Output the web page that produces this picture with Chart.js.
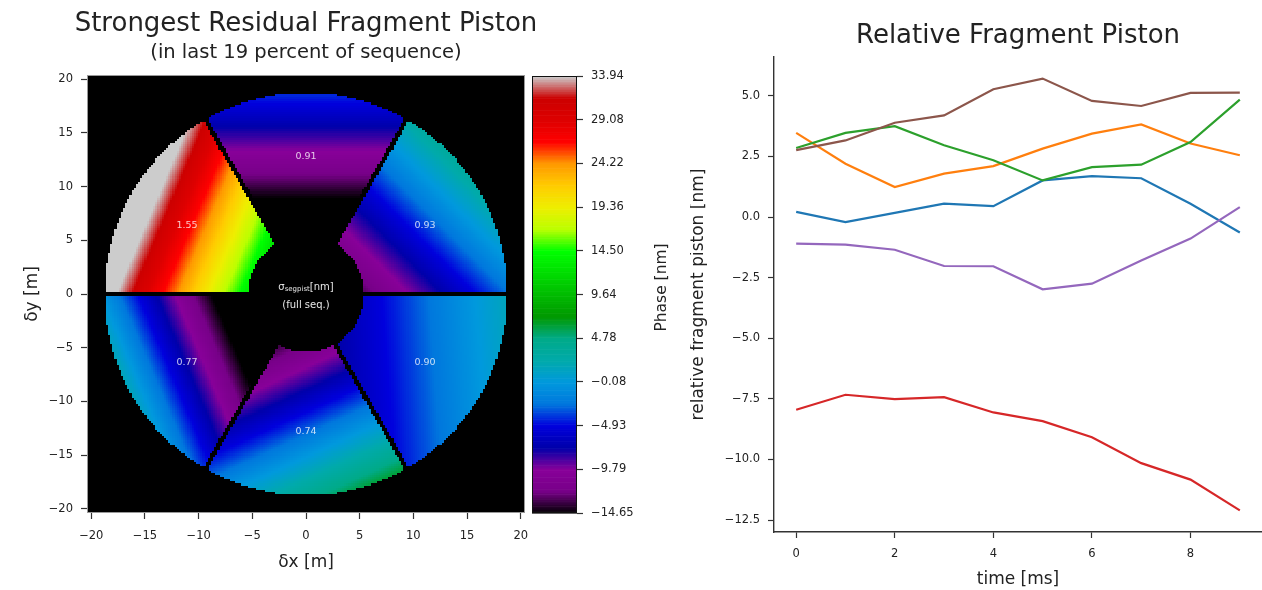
<!DOCTYPE html>
<html>
<head>
<meta charset="utf-8">
<title>Fragment piston</title>
<script src="https://cdn.jsdelivr.net/npm/chart.js@4.4.1/dist/chart.umd.min.js"></script>
<style>
  html, body { margin: 0; padding: 0; background: #fff; overflow: hidden; }
  #figure { position: relative; width: 1262px; height: 590px; }
  #figure canvas { position: absolute; top: 0; }
  #phaseMap { left: 0; }
  #phaseBar { left: 525px; }
  #pistonChart { left: 690px; }
</style>
</head>
<body>
<div id="figure">
  <canvas id="phaseMap" width="545" height="590"></canvas>
  <canvas id="phaseBar" width="165" height="590"></canvas>
  <canvas id="pistonChart" width="572" height="590"></canvas>
</div>
<script>
// relative piston of each fragment [nm] over time [ms]
const timeMs = [0, 1, 2, 3, 4, 5, 6, 7, 8, 9];
const pistonFrag1 = [0.21, -0.21, 0.17, 0.55, 0.45, 1.51, 1.69, 1.60, 0.55, -0.64];
const pistonFrag2 = [3.47, 2.20, 1.24, 1.79, 2.10, 2.82, 3.44, 3.82, 3.03, 2.55];
const pistonFrag3 = [2.85, 3.47, 3.75, 2.96, 2.34, 1.51, 2.06, 2.16, 3.09, 4.84];
const pistonFrag4 = [-7.95, -7.33, -7.51, -7.43, -8.06, -8.42, -9.08, -10.15, -10.83, -12.10];
const pistonFrag5 = [-1.10, -1.14, -1.35, -2.02, -2.03, -2.98, -2.75, -1.79, -0.89, 0.41];
const pistonFrag6 = [2.76, 3.16, 3.89, 4.19, 5.27, 5.71, 4.79, 4.58, 5.12, 5.13];
const pistonFrags = [pistonFrag1, pistonFrag2, pistonFrag3, pistonFrag4, pistonFrag5, pistonFrag6];
const fragColors = ['#1f77b4', '#ff7f0e', '#2ca02c', '#d62728', '#9467bd', '#8c564b'];

// residual phase per segment: piston [nm] + tip/tilt [nm/m], segments counter-clockwise from +x
const segPiston = [-17.32, -24.5, 4.0, -27.05, -17.73, -8.89];
const segTipX = [0.778, 0.0, -1.7, -1.417, 0.534, 0.558];
const segTiltY = [0.778, 1.1, 0.72, -0.6, -1.164, 0.044];
const segRms = [0.93, 0.91, 1.55, 0.77, 0.74, 0.90];

// colorbar ticks (first and last are the colour limits)
const phaseTicks = [-14.65, -9.79, -4.93, -0.08, 4.78, 9.64, 14.50, 19.36, 24.22, 29.08, 33.94];

// pupil geometry [m]
const outerR = 18.7;
const innerR = 5.5;
const spiderHalf = 0.27;
const spiderAngles = [0, 60, 120];
const mapHalf = 20.4;
const cell = 0.2;

// nipy_spectral stops at 0.05 steps
const spectralR = [0, 0.4667, 0.5333, 0, 0, 0, 0, 0, 0, 0, 0, 0, 0, 0.7333, 0.9333, 1, 1, 1, 0.8667, 0.8, 0.8];
const spectralG = [0, 0, 0, 0, 0, 0.4667, 0.6, 0.6667, 0.6667, 0.6, 0.7333, 0.8667, 1, 1, 0.9333, 0.8, 0.6, 0, 0, 0, 0.8];
const spectralB = [0, 0.5333, 0.6, 0.6667, 0.8667, 0.8667, 0.8667, 0.6667, 0.5333, 0, 0, 0, 0, 0, 0, 0, 0, 0, 0, 0, 0.8];

const phaseLo = phaseTicks[0];
const phaseHi = phaseTicks[phaseTicks.length - 1];

const colorFor = (v) => {
  const t = Math.min(1, Math.max(0, (v - phaseLo) / (phaseHi - phaseLo)));
  const f = t * 20;
  const i = Math.min(19, Math.floor(f));
  const w = f - i;
  const ch = (arr) => Math.round(255 * (arr[i] + (arr[i + 1] - arr[i]) * w));
  return `rgb(${ch(spectralR)},${ch(spectralG)},${ch(spectralB)})`;
};

const phaseAt = (xm, ym) => {
  const r = Math.hypot(xm, ym);
  if (r < innerR || r > outerR) return null;
  for (const deg of spiderAngles) {
    const a = deg * Math.PI / 180;
    if (Math.abs(xm * Math.sin(a) - ym * Math.cos(a)) < spiderHalf) return null;
  }
  let th = Math.atan2(ym, xm) * 180 / Math.PI;
  if (th < 0) th += 360;
  const k = Math.min(5, Math.floor(th / 60));
  return segPiston[k] + segTipX[k] * xm + segTiltY[k] * ym;
};

const minus = (s) => String(s).replace('-', '\u2212');

Chart.defaults.font.family = '"DejaVu Sans", sans-serif';
Chart.defaults.font.size = 11.5;
Chart.defaults.color = '#222';
Chart.defaults.animation = false;

const tickFont = { size: 11.5 };
const titleFont = { size: 17, lineHeight: 1 };
const tickMarks = { drawOnChartArea: false, drawTicks: true, tickLength: 6, tickColor: '#333', tickWidth: 1.2 };
const spine = { display: true, color: '#333', width: 1.4 };

// centred headings above a chart area
const headlines = (lines) => ({
  id: 'headlines',
  afterDraw(chart) {
    const { ctx, chartArea } = chart;
    lines.forEach((line) => {
      ctx.save();
      ctx.font = `${line.size}px "DejaVu Sans"`;
      ctx.fillStyle = '#222';
      ctx.textAlign = 'center';
      ctx.textBaseline = 'alphabetic';
      ctx.fillText(line.text, (chartArea.left + chartArea.right) / 2, line.y);
      ctx.restore();
    });
  },
});

const phaseMapPlugin = {
  id: 'phaseMap',
  beforeDatasetsDraw(chart) {
    const { ctx, chartArea: a, scales: { x, y } } = chart;
    ctx.save();
    ctx.beginPath();
    ctx.rect(a.left, a.top, a.right - a.left, a.bottom - a.top);
    ctx.clip();
    ctx.fillStyle = '#000';
    ctx.fillRect(a.left, a.top, a.right - a.left, a.bottom - a.top);
    const n = Math.round((2 * mapHalf) / cell);
    for (let i = 0; i < n; i++) {
      const xm = -mapHalf + i * cell;
      const x0 = Math.floor(x.getPixelForValue(xm));
      const x1 = Math.ceil(x.getPixelForValue(xm + cell));
      for (let j = 0; j < n; j++) {
        const ym = -mapHalf + j * cell;
        const v = phaseAt(xm + cell / 2, ym + cell / 2);
        if (v === null) continue;
        const y0 = Math.floor(y.getPixelForValue(ym + cell));
        const y1 = Math.ceil(y.getPixelForValue(ym));
        ctx.fillStyle = colorFor(v);
        ctx.fillRect(x0, y0, x1 - x0, y1 - y0);
      }
    }
    ctx.restore();
  },
  afterDatasetsDraw(chart) {
    const { ctx, chartArea: a, scales: { x, y } } = chart;
    ctx.save();
    ctx.textAlign = 'center';
    ctx.textBaseline = 'middle';
    // rms of each segment over the full sequence
    ctx.font = '9.5px "DejaVu Sans"';
    ctx.fillStyle = 'rgba(255,255,255,0.78)';
    segRms.forEach((rms, k) => {
      const ang = (30 + 60 * k) * Math.PI / 180;
      ctx.fillText(rms.toFixed(2), x.getPixelForValue(12.8 * Math.cos(ang)), y.getPixelForValue(12.8 * Math.sin(ang)));
    });
    // note in the central obscuration
    ctx.fillStyle = '#e6e6e6';
    const cx = x.getPixelForValue(0);
    const big = '10px "DejaVu Sans"';
    const small = '7px "DejaVu Sans"';
    ctx.font = big;
    const wSig = ctx.measureText('\u03c3').width;
    const wUnit = ctx.measureText('[nm]').width;
    ctx.font = small;
    const wSub = ctx.measureText('segpist').width;
    let px = cx - (wSig + wSub + wUnit) / 2;
    const py = y.getPixelForValue(0.62);
    ctx.textAlign = 'left';
    ctx.font = big;
    ctx.fillText('\u03c3', px, py);
    px += wSig;
    ctx.font = small;
    ctx.fillText('segpist', px, py + 2);
    px += wSub;
    ctx.font = big;
    ctx.fillText('[nm]', px, py);
    ctx.textAlign = 'center';
    ctx.fillText('(full seq.)', cx, y.getPixelForValue(-1.1));
    // frame
    ctx.strokeStyle = '#999';
    ctx.lineWidth = 1;
    ctx.strokeRect(a.left + 0.5, a.top + 0.5, a.right - a.left - 1, a.bottom - a.top - 1);
    ctx.restore();
  },
};

const colorBarPlugin = {
  id: 'colorBar',
  beforeDatasetsDraw(chart) {
    const { ctx, chartArea: a, scales: { y } } = chart;
    const steps = 256;
    ctx.save();
    for (let i = 0; i < steps; i++) {
      const v0 = phaseLo + (phaseHi - phaseLo) * i / steps;
      const v1 = phaseLo + (phaseHi - phaseLo) * (i + 1) / steps;
      const yTop = y.getPixelForValue(v1);
      const yBot = y.getPixelForValue(v0);
      ctx.fillStyle = colorFor((v0 + v1) / 2);
      ctx.fillRect(a.left, yTop, a.right - a.left, yBot - yTop + 0.6);
    }
    ctx.strokeStyle = '#111';
    ctx.lineWidth = 1;
    ctx.strokeRect(a.left + 0.5, a.top + 0.5, a.right - a.left - 1, a.bottom - a.top - 1);
    ctx.translate(a.right + 85, (a.top + a.bottom) / 2 - 7);
    ctx.rotate(-Math.PI / 2);
    ctx.font = '15.5px "DejaVu Sans"';
    ctx.fillStyle = '#222';
    ctx.textAlign = 'center';
    ctx.textBaseline = 'middle';
    ctx.fillText('Phase [nm]', 0, 0);
    ctx.restore();
  },
};

// phase map of the pupil
new Chart(document.getElementById('phaseMap'), {
  type: 'scatter',
  data: { datasets: [] },
  plugins: [phaseMapPlugin, headlines([
    { text: 'Strongest Residual Fragment Piston', size: 26, y: 31 },
    { text: '(in last 19 percent of sequence)', size: 19.5, y: 58 },
  ])],
  options: {
    responsive: false,
    layout: { padding: { top: 75, right: 20, bottom: 0, left: 0 } },
    plugins: { legend: { display: false }, tooltip: { enabled: false } },
    scales: {
      x: {
        type: 'linear',
        min: -mapHalf,
        max: mapHalf,
        afterFit: (s) => { s.height = 77; },
        ticks: { stepSize: 5, includeBounds: false, autoSkip: false, maxRotation: 0, padding: 10, font: tickFont, callback: (v) => minus(v) },
        grid: tickMarks,
        border: { display: false },
        title: { display: true, text: '\u03b4x [m]', font: titleFont, padding: { top: 0, bottom: 18.5 } },
      },
      y: {
        type: 'linear',
        min: -mapHalf,
        max: mapHalf,
        afterFit: (s) => { s.width = 87; },
        ticks: { stepSize: 5, includeBounds: false, autoSkip: false, padding: 8, font: tickFont, callback: (v) => minus(v) },
        grid: tickMarks,
        border: { display: false },
        title: { display: true, text: '\u03b4y [m]', font: titleFont, padding: { top: 24.5, bottom: 0 } },
      },
    },
  },
});

// colour scale of the map
new Chart(document.getElementById('phaseBar'), {
  type: 'scatter',
  data: { datasets: [] },
  plugins: [colorBarPlugin],
  options: {
    responsive: false,
    layout: { padding: { top: 76, right: 0, bottom: 77, left: 7 } },
    plugins: { legend: { display: false }, tooltip: { enabled: false } },
    scales: {
      x: { type: 'linear', display: false, min: 0, max: 1 },
      y: {
        type: 'linear',
        position: 'right',
        min: phaseLo,
        max: phaseHi,
        afterFit: (s) => { s.width = 113; },
        afterBuildTicks: (s) => { s.ticks = phaseTicks.map((value) => ({ value })); },
        ticks: { autoSkip: false, padding: 8, font: tickFont, callback: (v) => minus(Number(v).toFixed(2)) },
        grid: tickMarks,
        border: { display: false },
      },
    },
  },
});

// matplotlib-like 5% margins around the data
const allPiston = pistonFrags.flat();
const pMin = Math.min(...allPiston);
const pMax = Math.max(...allPiston);
const pPad = 0.05 * (pMax - pMin);
const tPad = 0.05 * (timeMs[timeMs.length - 1] - timeMs[0]);

new Chart(document.getElementById('pistonChart'), {
  type: 'line',
  data: {
    datasets: pistonFrags.map((vals, i) => ({
      data: vals.map((v, j) => ({ x: timeMs[j], y: v })),
      borderColor: fragColors[i],
      borderWidth: 2.2,
      pointRadius: 0,
      tension: 0,
      fill: false,
      order: pistonFrags.length - i,
    })),
  },
  plugins: [headlines([{ text: 'Relative Fragment Piston', size: 26, y: 43 }])],
  options: {
    responsive: false,
    layout: { padding: { top: 57, right: 0, bottom: 0, left: 0 } },
    plugins: { legend: { display: false }, tooltip: { enabled: false } },
    scales: {
      x: {
        type: 'linear',
        min: timeMs[0] - tPad,
        max: timeMs[timeMs.length - 1] + tPad,
        afterFit: (s) => { s.height = 58; },
        ticks: { stepSize: 2, includeBounds: false, autoSkip: false, maxRotation: 0, padding: 9, font: tickFont },
        grid: tickMarks,
        border: spine,
        title: { display: true, text: 'time [ms]', font: titleFont, padding: { top: 0, bottom: 2 } },
      },
      y: {
        type: 'linear',
        min: pMin - pPad,
        max: pMax + pPad,
        afterFit: (s) => { s.width = 84; },
        ticks: { stepSize: 2.5, includeBounds: false, autoSkip: false, padding: 8, font: tickFont, callback: (v) => minus(Number(v).toFixed(1)) },
        grid: tickMarks,
        border: spine,
        title: { display: true, text: 'relative fragment piston [nm]', font: titleFont, padding: { top: 0, bottom: 0 } },
      },
    },
  },
});
</script>
</body>
</html>
